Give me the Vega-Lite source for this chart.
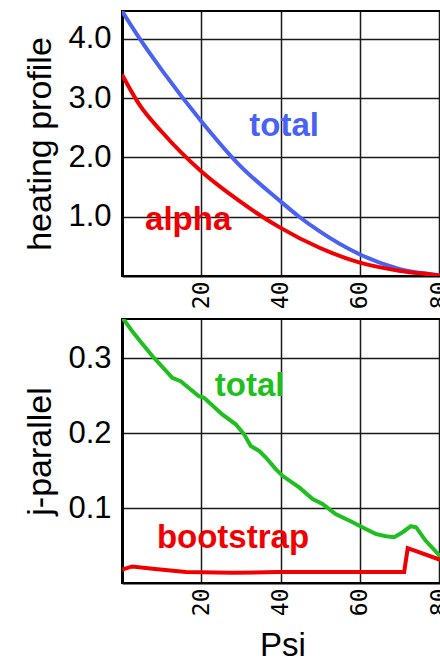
{
  "$schema": "https://vega.github.io/schema/vega-lite/v6.json",
  "background": "white",
  "padding": {"left": 22, "top": 10, "right": 0, "bottom": 0},
  "config": {
    "view": {"stroke": "black", "strokeWidth": 2},
    "concat": {"spacing": 8},
    "axis": {
      "grid": true,
      "gridColor": "#1a1a1a",
      "gridWidth": 1.5,
      "domainColor": "black",
      "domainWidth": 3,
      "ticks": false,
      "labelFont": "Liberation Sans",
      "labelFontSize": 31,
      "labelColor": "black",
      "labelPadding": 11,
      "titleFont": "Liberation Sans",
      "titleFontSize": 34,
      "titleFontWeight": "normal",
      "titleColor": "black",
      "titlePadding": 10
    },
    "axisX": {
      "labelFont": "DejaVu Sans Mono",
      "labelFontSize": 23,
      "labelAngle": -90,
      "labelPadding": 5,
      "domainWidth": 2,
      "titleFontSize": 33,
      "titlePadding": 14
    },
    "legend": {"disable": true}
  },
  "datasets": {
    "heating": [
      {"psi": 0, "value": 4.47, "series": "total"},
      {"psi": 4.3, "value": 4.02, "series": "total"},
      {"psi": 10.2, "value": 3.46, "series": "total"},
      {"psi": 19.9, "value": 2.62, "series": "total"},
      {"psi": 29.5, "value": 1.88, "series": "total"},
      {"psi": 39.8, "value": 1.27, "series": "total"},
      {"psi": 44.7, "value": 1.0, "series": "total"},
      {"psi": 49.7, "value": 0.76, "series": "total"},
      {"psi": 59.8, "value": 0.37, "series": "total"},
      {"psi": 69.9, "value": 0.12, "series": "total"},
      {"psi": 80, "value": 0.01, "series": "total"},
      {"psi": 81, "value": 0.0, "series": "total"},
      {"psi": 0, "value": 3.4, "series": "alpha"},
      {"psi": 4.3, "value": 2.9, "series": "alpha"},
      {"psi": 10.2, "value": 2.42, "series": "alpha"},
      {"psi": 19.9, "value": 1.77, "series": "alpha"},
      {"psi": 29.5, "value": 1.27, "series": "alpha"},
      {"psi": 35.4, "value": 1.0, "series": "alpha"},
      {"psi": 39.8, "value": 0.82, "series": "alpha"},
      {"psi": 49.7, "value": 0.48, "series": "alpha"},
      {"psi": 59.8, "value": 0.23, "series": "alpha"},
      {"psi": 69.9, "value": 0.09, "series": "alpha"},
      {"psi": 80, "value": 0.01, "series": "alpha"},
      {"psi": 81, "value": 0.0, "series": "alpha"}
    ],
    "heatingLabels": [
      {"psi": 40.9, "value": 2.36, "series": "total", "label": "total"},
      {"psi": 16.7, "value": 0.77, "series": "alpha", "label": "alpha"}
    ],
    "current": [
      {"psi": 0, "value": 0.353, "series": "total"},
      {"psi": 0.5, "value": 0.351, "series": "total"},
      {"psi": 2.6, "value": 0.3355, "series": "total"},
      {"psi": 4.3, "value": 0.3244, "series": "total"},
      {"psi": 7.7, "value": 0.3023, "series": "total"},
      {"psi": 8.5, "value": 0.2979, "series": "total"},
      {"psi": 12.7, "value": 0.2736, "series": "total"},
      {"psi": 14.8, "value": 0.2691, "series": "total"},
      {"psi": 19.4, "value": 0.2491, "series": "total"},
      {"psi": 20.7, "value": 0.247, "series": "total"},
      {"psi": 25.3, "value": 0.2248, "series": "total"},
      {"psi": 28.7, "value": 0.2116, "series": "total"},
      {"psi": 30.8, "value": 0.1983, "series": "total"},
      {"psi": 32.5, "value": 0.1827, "series": "total"},
      {"psi": 34.6, "value": 0.1761, "series": "total"},
      {"psi": 36.3, "value": 0.1673, "series": "total"},
      {"psi": 38.8, "value": 0.1518, "series": "total"},
      {"psi": 40.5, "value": 0.1429, "series": "total"},
      {"psi": 44.7, "value": 0.1275, "series": "total"},
      {"psi": 48.1, "value": 0.112, "series": "total"},
      {"psi": 50.6, "value": 0.1053, "series": "total"},
      {"psi": 53.9, "value": 0.092, "series": "total"},
      {"psi": 58.2, "value": 0.081, "series": "total"},
      {"psi": 61.5, "value": 0.0721, "series": "total"},
      {"psi": 64.0, "value": 0.0655, "series": "total"},
      {"psi": 66.6, "value": 0.0624, "series": "total"},
      {"psi": 68.7, "value": 0.0611, "series": "total"},
      {"psi": 70.8, "value": 0.0677, "series": "total"},
      {"psi": 72.9, "value": 0.0757, "series": "total"},
      {"psi": 74.2, "value": 0.0744, "series": "total"},
      {"psi": 76.6, "value": 0.0566, "series": "total"},
      {"psi": 80.1, "value": 0.0367, "series": "total"},
      {"psi": 81, "value": 0.0316, "series": "total"},
      {"psi": 0, "value": 0.018, "series": "bootstrap"},
      {"psi": 2.6, "value": 0.0221, "series": "bootstrap"},
      {"psi": 7.7, "value": 0.019, "series": "bootstrap"},
      {"psi": 16.1, "value": 0.0146, "series": "bootstrap"},
      {"psi": 27.9, "value": 0.0137, "series": "bootstrap"},
      {"psi": 39.6, "value": 0.0146, "series": "bootstrap"},
      {"psi": 71.2, "value": 0.0146, "series": "bootstrap"},
      {"psi": 72.1, "value": 0.0465, "series": "bootstrap"},
      {"psi": 80.1, "value": 0.0313, "series": "bootstrap"},
      {"psi": 81, "value": 0.0296, "series": "bootstrap"}
    ],
    "currentLabels": [
      {"psi": 32.2, "value": 0.25, "series": "total", "label": "total"},
      {"psi": 28.0, "value": 0.0465, "series": "bootstrap", "label": "bootstrap"}
    ]
  },
  "vconcat": [
    {
      "width": 321,
      "height": 265,
      "layer": [
        {
          "data": {"name": "heating"},
          "mark": {"type": "line", "strokeWidth": 4, "interpolate": "monotone", "clip": true},
          "encoding": {
            "x": {"field": "psi", "type": "quantitative", "scale": {"domain": [0, 81], "nice": false, "zero": false},
              "axis": {"values": [20, 40, 60, 80], "title": null}},
            "y": {"field": "value", "type": "quantitative", "scale": {"domain": [0, 4.47], "nice": false},
              "axis": {"values": [1, 2, 3, 4], "format": ".1f", "title": "heating profile"}},
            "color": {"field": "series", "type": "nominal",
              "scale": {"domain": ["total", "alpha"], "range": ["#4a62f2", "#f00000"]}},
            "order": {"field": "psi", "type": "quantitative"}
          }
        },
        {
          "data": {"name": "heatingLabels"},
          "mark": {"type": "text", "font": "Liberation Sans", "fontWeight": "bold", "fontSize": 33, "align": "center", "baseline": "alphabetic"},
          "encoding": {
            "x": {"field": "psi", "type": "quantitative"},
            "y": {"field": "value", "type": "quantitative"},
            "text": {"field": "label"},
            "color": {"field": "series", "type": "nominal"}
          }
        }
      ]
    },
    {
      "width": 321,
      "height": 264,
      "layer": [
        {
          "data": {"name": "current"},
          "mark": {"type": "line", "strokeWidth": 4, "clip": true},
          "encoding": {
            "x": {"field": "psi", "type": "quantitative", "scale": {"domain": [0, 81], "nice": false, "zero": false},
              "axis": {"values": [20, 40, 60, 80], "title": "Psi"}},
            "y": {"field": "value", "type": "quantitative", "scale": {"domain": [0, 0.352], "nice": false},
              "axis": {"values": [0.1, 0.2, 0.3], "format": ".1f", "title": "j-parallel"}},
            "color": {"field": "series", "type": "nominal",
              "scale": {"domain": ["total", "bootstrap"], "range": ["#1fbf1f", "#f00000"]}},
            "order": {"field": "psi", "type": "quantitative"}
          }
        },
        {
          "data": {"name": "currentLabels"},
          "mark": {"type": "text", "font": "Liberation Sans", "fontWeight": "bold", "fontSize": 33, "align": "center", "baseline": "alphabetic"},
          "encoding": {
            "x": {"field": "psi", "type": "quantitative"},
            "y": {"field": "value", "type": "quantitative"},
            "text": {"field": "label"},
            "color": {"field": "series", "type": "nominal"}
          }
        }
      ]
    }
  ],
  "resolve": {"scale": {"color": "independent"}}
}
